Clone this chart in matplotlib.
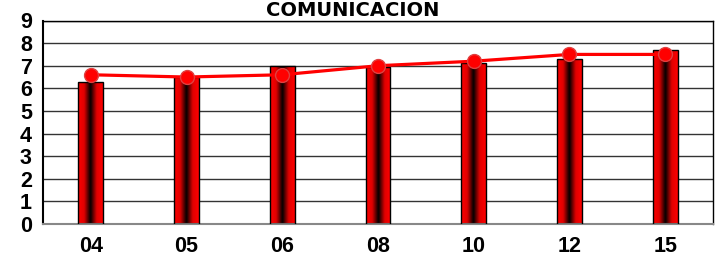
import matplotlib
matplotlib.use("Agg")
import matplotlib.pyplot as plt
import numpy as np
from matplotlib.colors import LinearSegmentedColormap

categories = ["04", "05", "06", "08", "10", "12", "15"]
bar_values = [6.3, 6.5, 7.0, 6.95, 7.1, 7.3, 7.7]
line_values = [6.6, 6.5, 6.6, 7.0, 7.2, 7.5, 7.5]
title = "COMUNICACION"

fig = plt.figure(figsize=(7.19, 2.60), dpi=100)
ax = fig.add_axes([43/719, 1 - 224/260, (713-43)/719, (224-20.5)/260])

x = np.arange(len(categories))
width = 0.26
bars = ax.bar(x, bar_values, width=width, color="none", edgecolor="black", linewidth=1.0, zorder=3)

cmap = LinearSegmentedColormap.from_list("rb", ["#ff0000", "#e00000", "#000000", "#e00000", "#ff0000"])
grad = np.linspace(0, 1, 256).reshape(1, -1)
for b in bars:
    x0 = b.get_x(); w = b.get_width(); h = b.get_height()
    im = ax.imshow(grad, cmap=cmap, aspect="auto", extent=[x0, x0 + w, 0, h], zorder=2.5, interpolation="bicubic")
    im.set_clip_path(b)

ax.plot(x, line_values, color="#ff0000", linewidth=2.3, marker="o", markersize=10,
        markerfacecolor="#ff0000", markeredgecolor="#e04040", markeredgewidth=1.0, zorder=5)

ax.set_xlim(-0.5, len(categories) - 0.5)
ax.set_ylim(0, 9)
ax.set_yticks(range(0, 10))
ax.yaxis.grid(True, color="#333333", linewidth=1.0, zorder=0)
ax.set_axisbelow(True)
ax.set_xticks(x)
ax.set_xticklabels(categories)
ax.tick_params(axis="both", length=0)
ax.tick_params(axis="x", pad=9)
ax.tick_params(axis="y", pad=8)
for lab in ax.get_xticklabels() + ax.get_yticklabels():
    lab.set_fontfamily("Liberation Sans")
    lab.set_fontweight("bold")
    lab.set_fontsize(15.5)

for s in ["left", "top", "right"]:
    ax.spines[s].set_color("black")
    ax.spines[s].set_linewidth(1.0)
ax.spines["left"].set_linewidth(1.5)
ax.spines["bottom"].set_color("#888888")
ax.spines["bottom"].set_linewidth(1.5)

fig.text(353/719, 1 - 10/260, title, ha="center", va="center", fontsize=14, fontweight="bold",
         family="DejaVu Sans")

fig.savefig("out.png", dpi=100)
